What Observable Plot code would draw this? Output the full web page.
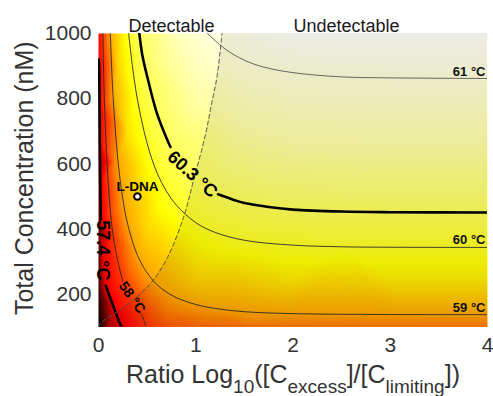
<!DOCTYPE html>
<html><head><meta charset="utf-8">
<script src="https://cdn.jsdelivr.net/npm/d3@7"></script>
<script src="https://cdn.jsdelivr.net/npm/@observablehq/plot@0.6"></script>
<style>
html,body{margin:0;padding:0;background:#fff;}
#chart svg{display:block;}
</style>
</head><body><div id="chart"></div>
<script>
// ---- data: [log10 ratio, total concentration nM] ----
const xTicks = [0, 1, 2, 3, 4];
const yTicks = [200, 400, 600, 800, 1000];

// contour 57.4 °C (thick), split around its label
const c574a = [[0.003,920],[0.008,871],[0.011,760],[0.014,650],[0.018,540],[0.024,430]];
const c574b = [[0.075,227],[0.12,190],[0.17,150],[0.23,105],[0.245,100]];
// contour 58 °C, split around its label
const c58a = [[0.045,1000],[0.06,800],[0.08,650],[0.11,500],[0.15,380],[0.2,300],[0.25,240]];
const c58b = [[0.44,140],[0.47,118],[0.49,100]];
// contour 59 °C
const c59 = [[0.121,1000],[0.15,806],[0.2,610],[0.25,493],[0.3,415],[0.4,320],[0.5,266],[0.6,230],[0.7,207],[0.8,190],[1,169],[1.2,157],[1.5,147],[2,141],[3,138.3],[4,138]];
// contour 60 °C
const c60 = [[0.31,1000],[0.35,898],[0.4,798],[0.5,663],[0.6,574],[0.7,516],[0.8,474],[1,420],[1.2,390],[1.5,366],[2,351],[2.5,346],[3,344.6],[4,344]];
// contour 60.3 °C (thick), split around its label
const c603a = [[0.42,1000],[0.45,935],[0.5,869],[0.6,756],[0.7,679],[0.74,652]];
const c603b = [[1.23,507],[1.4,489],[1.5,480],[1.75,468],[2,460],[2.5,454],[3,452],[4,451]];
// contour 61 °C
const c61 = [[1.12,1000],[1.3,953],[1.5,918],[1.7,897],[2,880],[2.5,867],[3,864],[4,862]];

// hidden parts of contours (under labels): [x, nM, °C]
const labelGaps = [[0.045,330,57.4],[0.33,190,58],[0.85,600,60.3],[0.97,560,60.3],[1.1,529,60.3]];
// extra temperature samples at the edges and inside: [x, nM, °C]
const edgeSamples = [
  [0,100,55.2],[0,200,55.6],[0,400,56.1],[0,600,56.6],[0,870,57.35],[0,1000,57.55],
  [0.1,100,56.8],
  [0.7,100,58.25],[1,100,58.4],[1.5,100,58.5],[2,100,58.55],[3,100,58.57],[4,100,58.57],
  [0.8,1000,60.82],[1.5,1000,61.1],[2,1000,61.16],[3,1000,61.18],[4,1000,61.18],
  [4,250,59.65],[4,650,60.7]
];
const innerSamples = [
  [0.5,400,59.44],[1,250,59.43],[2,250,59.63],[3,250,59.65],[0.2,900,59.42],[0.3,700,59.57],
  [0.6,900,60.49],[1,800,60.71],[1.5,700,60.71],[2,650,60.69],[3,650,60.7],
  [0.7,150,58.64],[1.5,120,58.8]
];

// detectable / undetectable boundary (dashed)
const boundary = [[0,100],[0.02,111],[0.257,160],[0.534,233],[0.709,313],[0.874,436],[0.977,549],[1.1,690],[1.16,780],[1.22,870],[1.27,1000]];

// labels
const regionNames = ["Detectable", "Undetectable"];
const regionX = [0.75, 2.55];
const endLabels = ["61 °C", "60 °C", "59 °C"];
const endLabelY = [862, 344, 138];
const label603 = ["60.3 °C", 0.966, 568];
const label574 = ["57.4 °C", 0.04, 335];
const label58 = ["58 °C", 0.345, 190];
const point = ["L-DNA", 0.40, 500];
const xTitle = "Ratio Log10([Cexcess]/[Climiting])";
const xTitleParts = [["Ratio Log",0],["10",1],["([C",0],["excess",1],["]/[C",0],["limiting",1],["])",0]];
const yTitle = "Total Concentration (nM)";

// ---- build tables for the library ----
const withT = (arr, t) => arr.map(([x, y]) => [x, y, t]);
const samples = [
  ...withT(c574a, 57.4), ...withT(c574b, 57.4),
  ...withT(c58a, 58), ...withT(c58b, 58),
  ...withT(c59, 59), ...withT(c60, 60),
  ...withT(c603a, 60.3), ...withT(c603b, 60.3),
  ...withT(c61, 61),
  ...labelGaps, ...edgeSamples, ...innerSamples
];
const xMax = xTicks[xTicks.length - 1];
const X = d => d[0], Y = d => d[1];
const thin = {x: X, y: Y, stroke: "#2a2a2a", strokeWidth: 0.9, curve: "catmull-rom", clip: true};
const thick = {x: X, y: Y, stroke: "#000", strokeWidth: 2.6, curve: "catmull-rom", clip: true};
const FONT = "Arial, 'Liberation Sans', Helvetica, sans-serif";

const svg = Plot.plot({
  width: 493,
  height: 396,
  marginLeft: 98,
  marginRight: 6,
  marginTop: 33,
  marginBottom: 69.5,
  style: {fontFamily: FONT, fontSize: "21px", color: "#333", background: "#fff"},
  x: {domain: [0, 4], ticks: xTicks, tickSize: 0, tickPadding: 10, label: null, tickFormat: d => String(d)},
  y: {domain: [100, 1000], ticks: yTicks, tickSize: 0, tickPadding: 7, label: null, tickFormat: d => String(d)},
  color: {type: "linear", domain: [55.2, 57.5, 59.8, 61.2], range: ["#000000", "#ff0000", "#ffff00", "#ffffff"], interpolate: "rgb", clamp: true},
  marks: [
    Plot.raster(samples, {x: X, y: Y, fill: d => d[2], interpolate: "barycentric", pixelSize: 1}),
    Plot.areaX(boundary, {y: Y, x1: X, x2: () => xMax, fill: "#000", fillOpacity: 0.075, curve: "monotone-y", clip: true}),
    Plot.line(c58a, thin), Plot.line(c58b, thin),
    Plot.line(c59, thin), Plot.line(c60, thin),
    Plot.line(c61, {...thin, stroke: "#555"}),
    Plot.line(c574a, thick), Plot.line(c574b, thick),
    Plot.line(c603a, thick), Plot.line(c603b, thick),
    Plot.line(boundary, {x: X, y: Y, stroke: "#555", strokeWidth: 1, strokeDasharray: "4,3", curve: "catmull-rom", clip: true}),
    Plot.dot([point], {x: d => d[1], y: d => d[2], r: 3.3, stroke: "#000", strokeWidth: 2, fill: "#fff"}),
    Plot.text([point], {x: d => d[1], y: d => d[2], text: d => d[0], lineAnchor: "bottom", dy: -6, fontSize: 13.5, fontWeight: "bold", fill: "#000"}),
    Plot.text(endLabels, {x: () => xMax, y: (d, i) => endLabelY[i], text: d => d, textAnchor: "end", lineAnchor: "bottom", dx: -2, dy: -3, fontSize: 13, fontWeight: "bold", fill: "#111"}),
    Plot.text([label603], {x: d => d[1], y: d => d[2], text: d => d[0], rotate: 42, fontSize: 18, fontWeight: "bold", fill: "#000"}),
    Plot.text([label574], {x: d => d[1], y: d => d[2], text: d => d[0], rotate: 90, fontSize: 18, fontWeight: "bold", fill: "#000"}),
    Plot.text([label58], {x: d => d[1], y: d => d[2], text: d => d[0], rotate: 55, fontSize: 14, fontWeight: "bold", fill: "#000"}),
    Plot.text(regionNames, {x: (d, i) => regionX[i], text: d => d, frameAnchor: "top", lineAnchor: "bottom", dy: -1.5, fontSize: 18, fill: "#1a1a1a"}),
    Plot.text([yTitle], {text: d => d, frameAnchor: "left", textAnchor: "middle", rotate: -90, dx: -74, dy: -2, fontSize: 25, fill: "#333"}),
    Plot.text([xTitle], {text: d => d, frameAnchor: "bottom", textAnchor: "middle", lineAnchor: "top", dy: 38.5, fontSize: 25, fill: "#333"})
  ]
});

// subscripts in the x title
d3.select(svg).selectAll("text").filter(function () { return this.textContent === xTitle; }).each(function () {
  const t = d3.select(this);
  t.text(null);
  let low = false;
  xTitleParts.forEach(([s, sub]) => {
    const span = t.append("tspan").text(s);
    if (sub) { span.attr("font-size", "19px"); if (!low) span.attr("dy", 10); low = true; }
    else { if (low) span.attr("dy", -10); low = false; }
  });
});

document.getElementById("chart").appendChild(svg);
</script>
</body></html>
